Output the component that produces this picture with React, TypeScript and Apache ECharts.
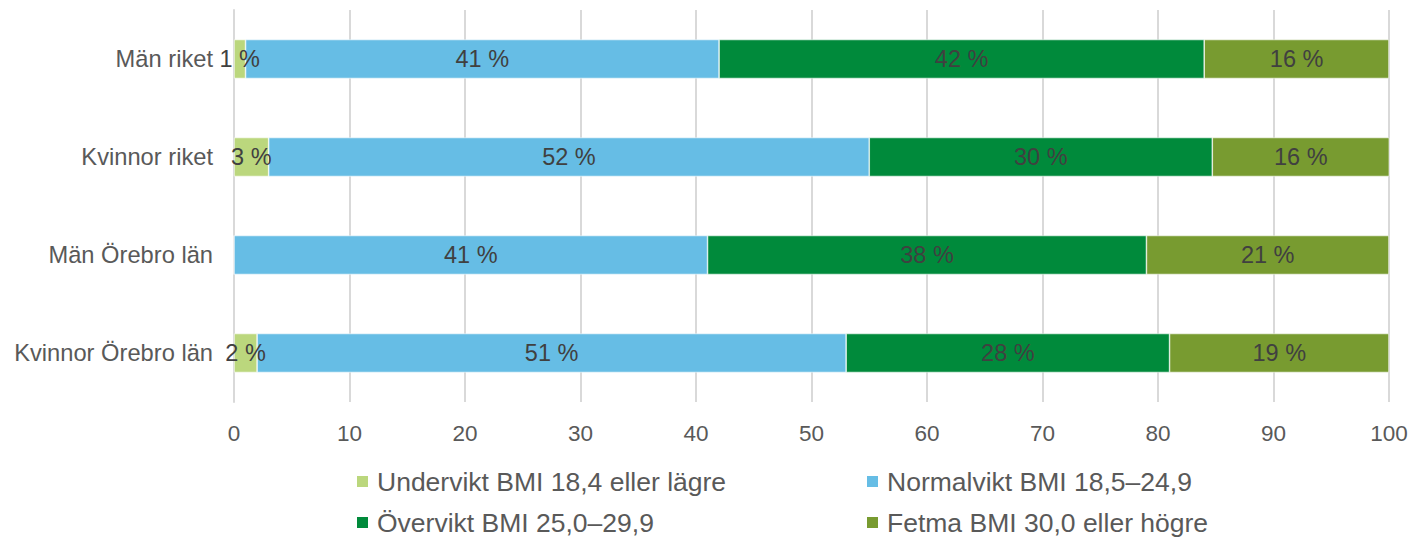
import React, { useEffect, useRef } from "react";
import * as echarts from "echarts";

const categories = ["Män riket", "Kvinnor riket", "Män Örebro län", "Kvinnor Örebro län"];
const seriesNames = [
  "Undervikt BMI 18,4 eller lägre",
  "Normalvikt BMI 18,5–24,9",
  "Övervikt BMI 25,0–29,9",
  "Fetma BMI 30,0 eller högre",
];
const undervikt = [1, 3.0, 0, 2];
const normalvikt = [41, 52.0, 41, 51];
const overvikt = [42, 29.7, 38, 28];
const fetma = [16, 15.5, 21, 19];
const xTicks = [0, 10, 20, 30, 40, 50, 60, 70, 80, 90, 100];

const colors = ["#BBD77D", "#66BDE5", "#008A3B", "#789B30"];
const FONT = "'Liberation Sans', Arial, sans-serif";

export default function App() {
  const ref = useRef<HTMLDivElement>(null);
  useEffect(() => {
    if (!ref.current) return;
    const chart = echarts.init(ref.current, undefined, { renderer: "svg" });
    const allData = [undervikt, normalvikt, overvikt, fetma];
    const series = allData.map((d, i) => ({
      name: seriesNames[i],
      type: "bar",
      stack: "total",
      data: d,
      barWidth: 39,
      itemStyle: { color: colors[i], borderColor: "#ffffff", borderWidth: 0.6 },
      label: {
        show: true,
        position: "inside",
        color: "#404040",
        fontSize: 23.5,
        fontFamily: FONT,
        formatter: (p: any) => (p.value > 0 ? Math.round(p.value) + " %" : ""),
      },
    }));
    const legendCommon = {
      itemWidth: 13,
      itemHeight: 13,
      icon: "rect",
      textStyle: { fontSize: 26.5, color: "#595959", fontFamily: FONT, padding: [0, 0, 0, 3] },
    };
    const lefts = [350, 860, 350, 860];
    const tops = [463, 463, 504, 504];
    chart.setOption({
      animation: false,
      color: colors,
      textStyle: { fontFamily: FONT },
      grid: { left: 234, right: 23, top: 10, height: 392, containLabel: false },
      legend: seriesNames.map((n, i) => ({
        ...legendCommon,
        left: lefts[i],
        top: tops[i],
        data: [n],
      })),
      xAxis: {
        type: "value",
        min: xTicks[0],
        max: xTicks[xTicks.length - 1],
        interval: 10,
        axisLine: { show: false },
        axisTick: { show: false },
        splitLine: { show: true, lineStyle: { color: "#D9D9D9", width: 2 } },
        axisLabel: { fontSize: 22.5, color: "#595959", fontFamily: FONT, margin: 20 },
      },
      yAxis: {
        type: "category",
        data: categories,
        inverse: true,
        axisLine: { show: true, lineStyle: { color: "#D9D9D9", width: 2 } },
        axisTick: { show: false },
        axisLabel: { fontSize: 23.7, color: "#595959", fontFamily: FONT, margin: 21 },
      },
      series,
    });
    return () => chart.dispose();
  }, []);
  return (
    <div
      ref={ref}
      style={{ position: "absolute", left: 0, top: 0, width: 1412, height: 539 }}
    />
  );
}
